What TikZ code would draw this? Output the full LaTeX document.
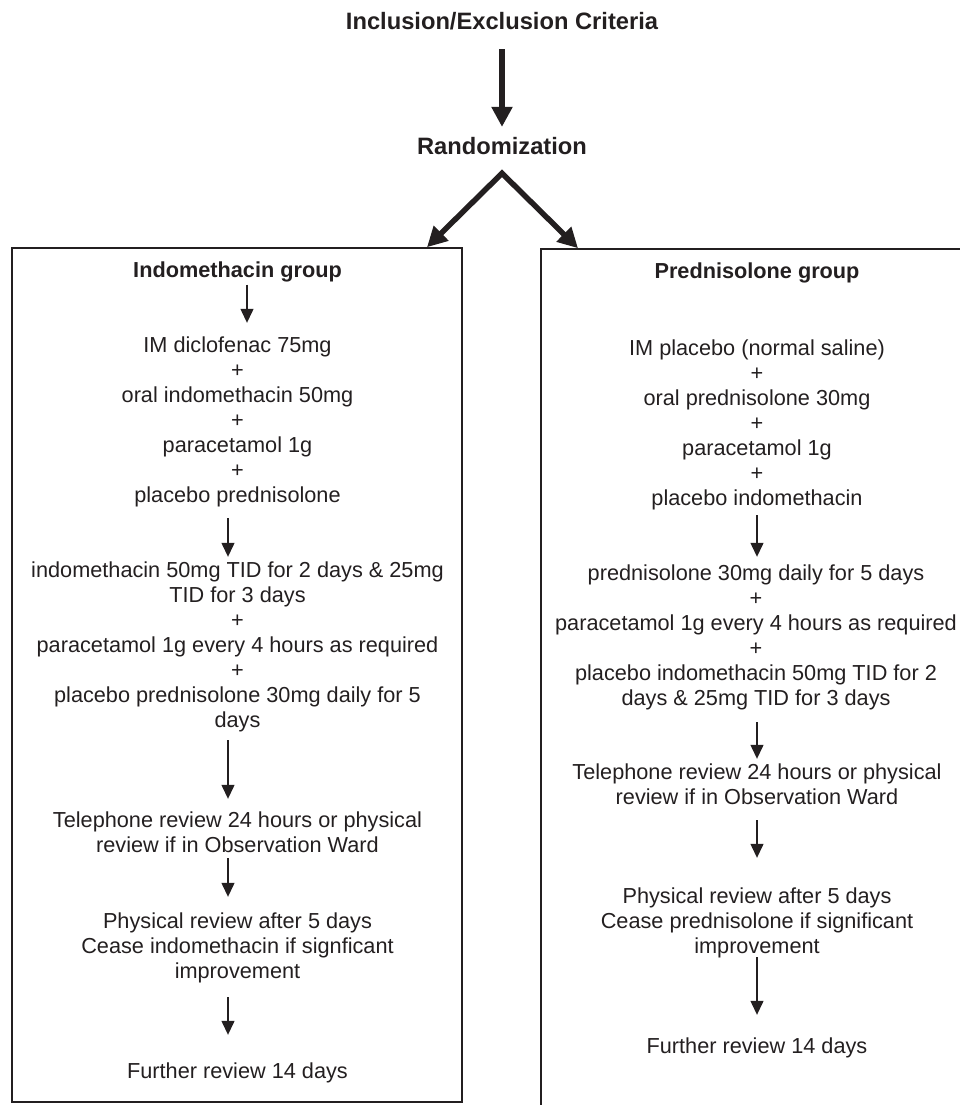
\documentclass[tikz,border=0pt]{standalone}
\usepackage{fontspec}
\setmainfont{Liberation Sans}
\usetikzlibrary{arrows.meta}
\definecolor{ink}{HTML}{231F20}
\begin{document}
\begin{tikzpicture}[x=1pt,y={(0pt,-1pt)},
  body/.style={font=\fontsize{21.7}{25}\selectfont, align=center, inner sep=0pt, text=ink},
  grouptitle/.style={font=\fontsize{21.7}{25}\selectfont\bfseries, align=center, inner sep=0pt, text=ink},
  toptitle/.style={font=\fontsize{23.7}{27}\selectfont\bfseries, align=center, inner sep=0pt, text=ink},
  frame/.style={draw=ink, line width=1.6pt, inner sep=0pt},
  sarr/.style={draw=ink, line width=1.3pt, -{Triangle[width=13pt,length=14pt]}},
  barr/.style={draw=ink, line width=5.5pt, line join=miter}
]
\useasboundingbox (0,0) rectangle (960,1105);
\clip (0,0) rectangle (960,1105);

% titles
\node[toptitle] (crit) at (502,24.6) {\strut Inclusion/Exclusion Criteria};
\node[toptitle] (rand) at (502,148.6) {\strut Randomization};

% group frames
\node[frame, minimum width=450pt, minimum height=854pt] (boxL) at (237,675) {};
\node[frame, minimum width=430pt, minimum height=900pt] (boxR) at (756,699) {};

% left column
\node[grouptitle] (gL) at (237.5,272) {\strut Indomethacin group};
\node[body] (L1) at (237.5,422) {\strut IM diclofenac 75mg\\\strut +\\\strut oral indomethacin 50mg\\\strut +\\\strut paracetamol 1g\\\strut +\\\strut placebo prednisolone};
\node[body] (L2) at (237.5,647) {\strut indomethacin 50mg TID for 2 days \& 25mg\\\strut TID for 3 days\\\strut +\\\strut paracetamol 1g every 4 hours as required\\\strut +\\\strut placebo prednisolone 30mg daily for 5\\\strut days};
\node[body] (L3) at (237.5,834.5) {\strut Telephone review 24 hours or physical\\\strut review if in Observation Ward};
\node[body] (L4) at (237.5,948) {\strut Physical review after 5 days\\\strut Cease indomethacin if signficant\\\strut improvement};
\node[body] (L5) at (237.5,1073) {\strut Further review 14 days};

% right column
\node[grouptitle] (gR) at (757,273) {\strut Prednisolone group};
\node[body] (R1) at (757,425) {\strut IM placebo (normal saline)\\\strut +\\\strut oral prednisolone 30mg\\\strut +\\\strut paracetamol 1g\\\strut +\\\strut placebo indomethacin};
\node[body] (R2) at (756,637.5) {\strut prednisolone 30mg daily for 5 days\\\strut +\\\strut paracetamol 1g every 4 hours as required\\\strut +\\\strut placebo indomethacin 50mg TID for 2\\\strut days \& 25mg TID for 3 days};
\node[body] (R3) at (757,786.5) {\strut Telephone review 24 hours or physical\\\strut review if in Observation Ward};
\node[body] (R4) at (757,923) {\strut Physical review after 5 days\\\strut Cease prednisolone if significant\\\strut improvement};
\node[body] (R5) at (757,1048) {\strut Further review 14 days};

% big arrows
\draw[barr, -{Triangle[width=20pt,length=20pt]}, shorten <=11pt, shorten >=8pt] (crit.south) -- (rand.north);
\draw[barr, {Triangle[width=20pt,length=20pt]}-{Triangle[width=20pt,length=20pt]}]
  ([xshift=190pt]boxL.north) -- ([yshift=-11pt]rand.south) -- ([xshift=-178pt]boxR.north);

% left arrows
\draw[sarr, shorten >=11.5pt] ([xshift=9.5pt]gL.south) -- ([xshift=9.5pt]L1.north);
\draw[sarr, shorten <=8.5pt, shorten >=2.5pt] ([xshift=-9.5pt]L1.south) -- ([xshift=-9.5pt]L2.north);
\draw[sarr, shorten <=5.5pt, shorten >=10.5pt] ([xshift=-9.5pt]L2.south) -- ([xshift=-9.5pt]L3.north);
\draw[sarr, shorten <=-1.5pt, shorten >=13.5pt] ([xshift=-9.5pt]L3.south) -- ([xshift=-9.5pt]L4.north);
\draw[sarr, shorten <=11.5pt, shorten >=25.5pt] ([xshift=-9.5pt]L4.south) -- ([xshift=-9.5pt]L5.north);

% right arrows
\draw[sarr, shorten <=2.5pt, shorten >=5.5pt] (R1.south) -- ([xshift=1pt]R2.north);
\draw[sarr, shorten <=9.5pt, shorten >=2.5pt] ([xshift=1pt]R2.south) -- (R3.north);
\draw[sarr, shorten <=8.5pt, shorten >=27.5pt] (R3.south) -- (R4.north);
\draw[sarr, shorten <=-3.5pt, shorten >=20.5pt] (R4.south) -- (R5.north);
\end{tikzpicture}
\end{document}
